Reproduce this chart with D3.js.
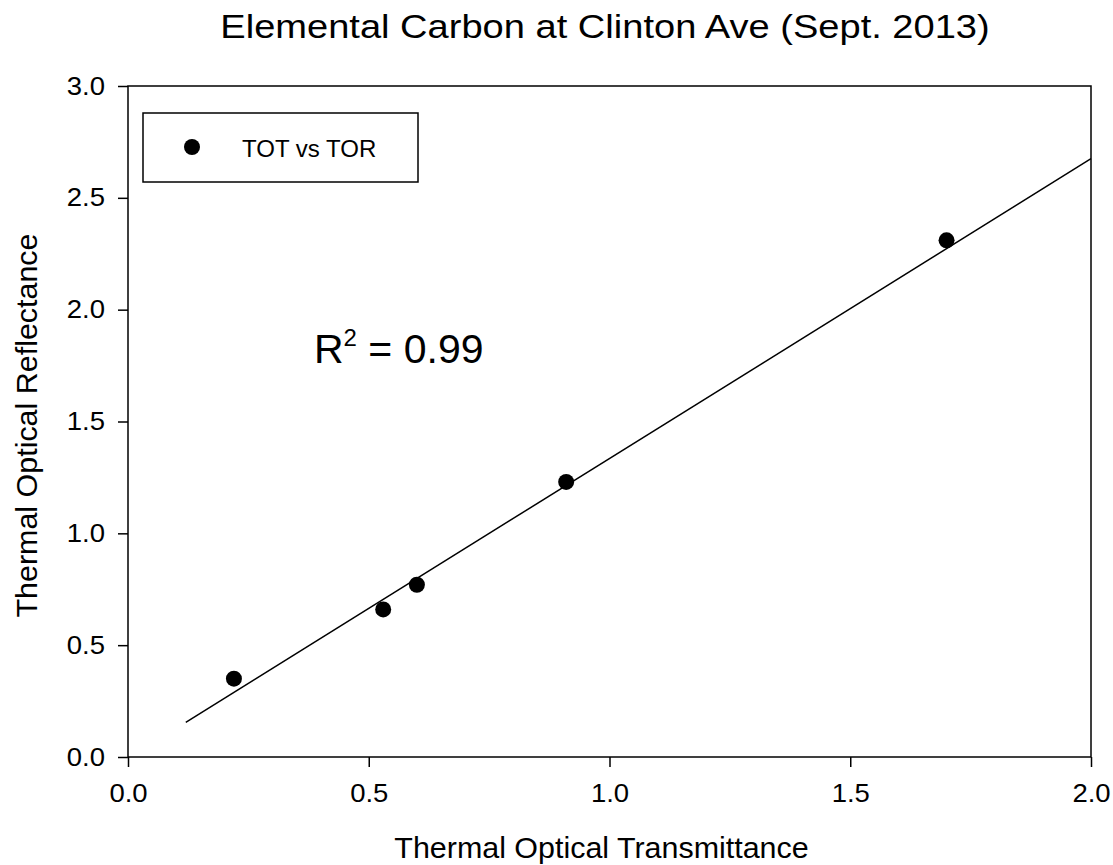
<!DOCTYPE html>
<html>
<head>
<meta charset="utf-8">
<script src="https://cdn.jsdelivr.net/npm/d3@7"></script>
<style>
  body { margin: 0; background: #fff; }
  text { font-family: "Liberation Sans", Arial, sans-serif; fill: #000; }
</style>
</head>
<body>
<svg id="chart"></svg>
<script>
// values
const tot = [0.22, 0.53, 0.60, 0.91, 1.70]; // Thermal Optical Transmittance
const tor = [0.35, 0.66, 0.77, 1.23, 2.31]; // Thermal Optical Reflectance
const fitX = [0.12, 2.0]; // regression line ends
const fitY = [0.155, 2.675];
const xTicks = [0, 0.5, 1.0, 1.5, 2.0];
const yTicks = [0, 0.5, 1.0, 1.5, 2.0, 2.5, 3.0];
const title = "Elemental Carbon at Clinton Ave (Sept. 2013)";
const xLabel = "Thermal Optical Transmittance";
const yLabel = "Thermal Optical Reflectance";
const legendLabel = "TOT vs TOR";
const rSquared = "0.99";

const width = 1113;
const height = 865;
const marginTop = 86;
const marginRight = 22;
const marginBottom = 108;
const marginLeft = 128;
const tickSx = 1.1; // the original export draws its glyphs a bit wider than Arial

const svg = d3.select("#chart")
    .attr("width", width)
    .attr("height", height)
    .attr("viewBox", [0, 0, width, height]);

const x = d3.scaleLinear([0, 2], [marginLeft, width - marginRight]);
const y = d3.scaleLinear([0, 3], [height - marginBottom, marginTop]);

// text placed at (tx,ty), widened by sx, rotated by rot
function label(tx, ty, size, sx, str, rot = 0) {
  return svg.append("text")
      .attr("transform", `translate(${tx},${ty}) rotate(${rot}) scale(${sx},1)`)
      .attr("text-anchor", "middle")
      .attr("font-size", size)
      .text(str);
}

// frame
svg.append("rect")
    .attr("x", marginLeft)
    .attr("y", marginTop)
    .attr("width", width - marginRight - marginLeft)
    .attr("height", height - marginBottom - marginTop)
    .attr("fill", "none")
    .attr("stroke", "#000")
    .attr("stroke-width", 1.5);

const xAxis = d3.axisBottom(x).tickValues(xTicks).tickFormat(d3.format(".1f"))
    .tickSizeInner(10).tickSizeOuter(0).tickPadding(17);
const yAxis = d3.axisLeft(y).tickValues(yTicks).tickFormat(d3.format(".1f"))
    .tickSizeInner(10).tickSizeOuter(0);

svg.append("g")
    .attr("transform", `translate(0,${height - marginBottom})`)
    .call(xAxis)
    .call(g => g.select(".domain").remove())
    .call(g => g.selectAll(".tick line").attr("stroke-width", 1.5))
    .call(g => g.selectAll(".tick text")
        .attr("font-size", 25)
        .attr("font-family", "Liberation Sans, Arial, sans-serif")
        .attr("transform", `scale(${tickSx},1)`));

svg.append("g")
    .attr("transform", `translate(${marginLeft},0)`)
    .call(yAxis)
    .call(g => g.select(".domain").remove())
    .call(g => g.selectAll(".tick line").attr("stroke-width", 1.5))
    .call(g => g.selectAll(".tick text")
        .attr("font-size", 25)
        .attr("font-family", "Liberation Sans, Arial, sans-serif")
        .attr("x", -23 / tickSx)
        .attr("transform", `scale(${tickSx},1)`));

// regression line
svg.append("line")
    .attr("x1", x(fitX[0])).attr("y1", y(fitY[0]))
    .attr("x2", x(fitX[1])).attr("y2", y(fitY[1]))
    .attr("stroke", "#000")
    .attr("stroke-width", 1.5);

// points
svg.append("g")
  .selectAll("circle")
  .data(d3.range(tot.length))
  .join("circle")
    .attr("cx", i => x(tot[i]))
    .attr("cy", i => y(tor[i]))
    .attr("r", 8)
    .attr("fill", "#000");

// legend
const legend = svg.append("g");
legend.append("rect")
    .attr("x", 143).attr("y", 113)
    .attr("width", 275).attr("height", 69)
    .attr("fill", "#fff")
    .attr("stroke", "#000")
    .attr("stroke-width", 1.5);
legend.append("circle")
    .attr("cx", 192).attr("cy", 147)
    .attr("r", 8)
    .attr("fill", "#000");
legend.append("text")
    .attr("x", 242).attr("y", 157)
    .attr("font-size", 24)
    .text(legendLabel);

// R^2 annotation
const r2 = svg.append("text")
    .attr("x", 314).attr("y", 363)
    .attr("font-size", 41);
r2.append("tspan").text("R");
r2.append("tspan").attr("dy", -17).attr("font-size", 24).text("2");
r2.append("tspan").attr("dy", 17).text(" = " + rSquared);

// titles
const cx = (marginLeft + width - marginRight) / 2;
label(605, 38, 34, 1.12, title);
label(cx - 8, 858, 29, 1.05, xLabel);
label(37, (marginTop + height - marginBottom) / 2 + 4, 29, 1.05, yLabel, -90);
</script>
</body>
</html>
